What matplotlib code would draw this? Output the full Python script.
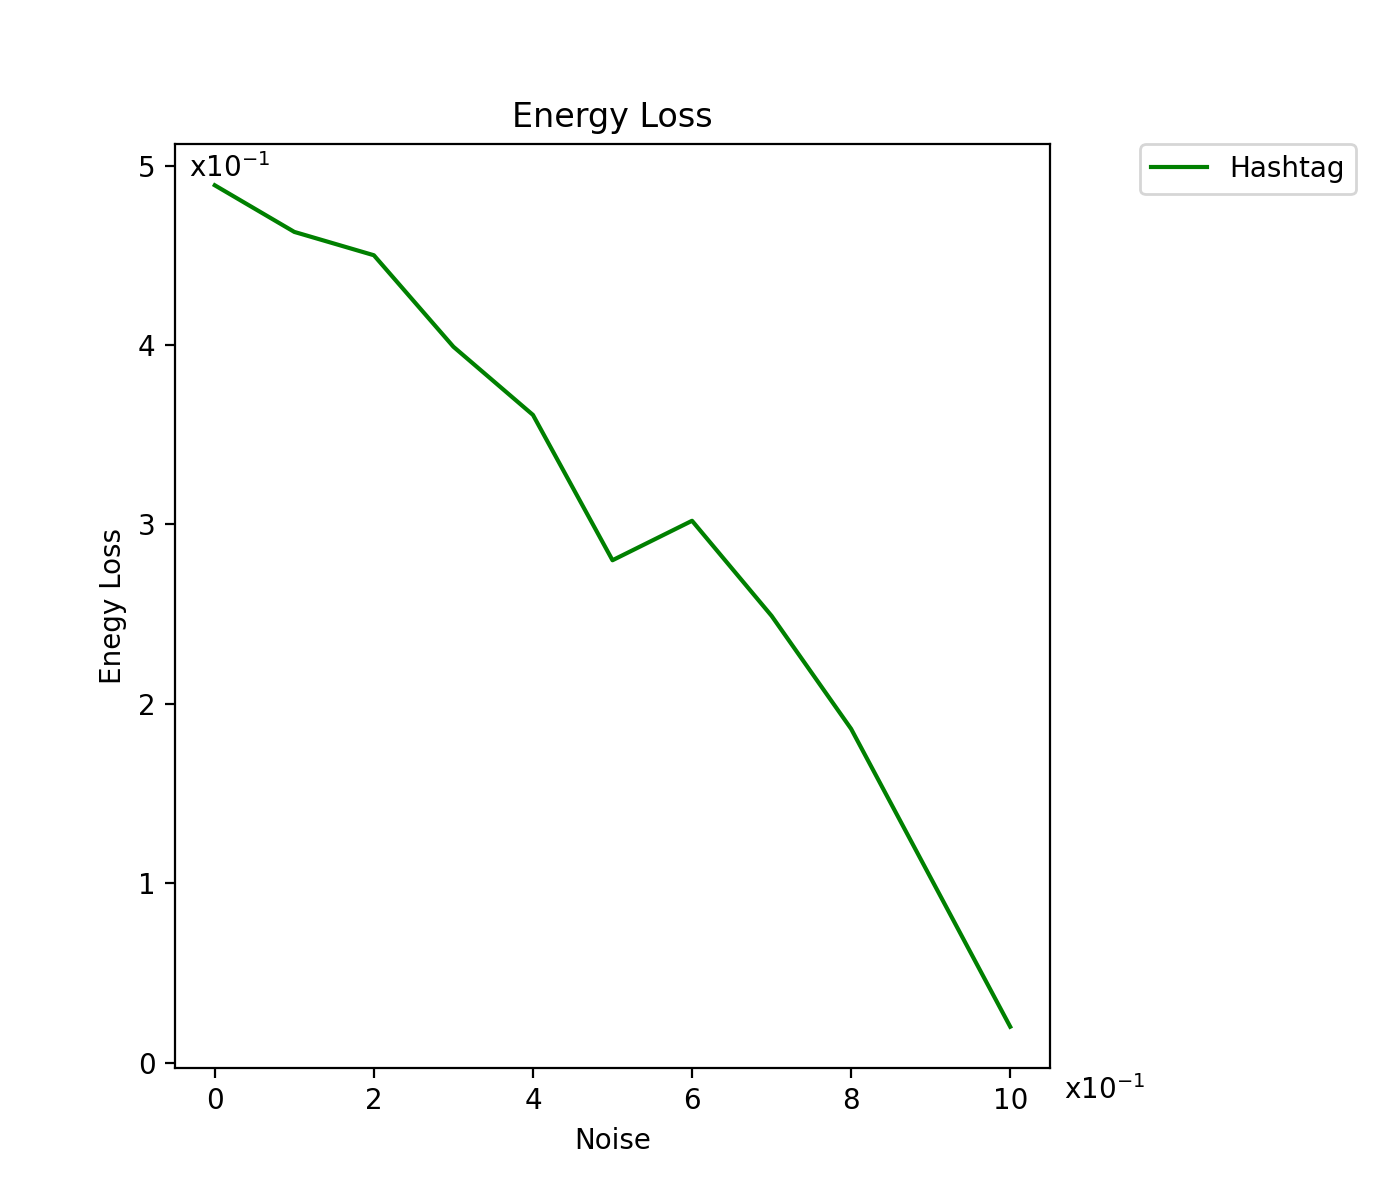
import matplotlib
matplotlib.use("Agg")
import matplotlib.pyplot as plt

# values are read in units of 1e-1 (see the x10^-1 labels)
noise = [0, 1, 2, 3, 4, 5, 6, 7, 8, 9, 10]
energy_loss = [4.89, 4.63, 4.50, 3.99, 3.61, 2.80, 3.02, 2.49, 1.86, 1.03, 0.20]
x_ticks = [0, 2, 4, 6, 8, 10]
y_ticks = [0, 1, 2, 3, 4, 5]


def graph():
    fig = plt.figure(figsize=(7, 6), dpi=200)
    ax = fig.add_subplot(111)
    fig.subplots_adjust(right=0.75)

    ax.plot(noise, energy_loss, color="green", label="Hashtag")
    ax.set_xticks(x_ticks)
    ax.set_yticks(y_ticks)
    ax.set_ylim(-0.03, 5.12)

    ax.set_title("Energy Loss")
    ax.set_xlabel("Noise")
    ax.set_ylabel("Enegy Loss")

    ax.text(0.016, 0.99, r"x$10^{-1}$", transform=ax.transAxes, ha="left", va="top")
    ax.text(1.016, -0.024, r"x$10^{-1}$", transform=ax.transAxes, ha="left", va="center")

    ax.legend(loc="upper left", bbox_to_anchor=(1.103, 1.0), borderaxespad=0)

    fig.savefig("out.png")


if __name__ == "__main__":
    graph()
